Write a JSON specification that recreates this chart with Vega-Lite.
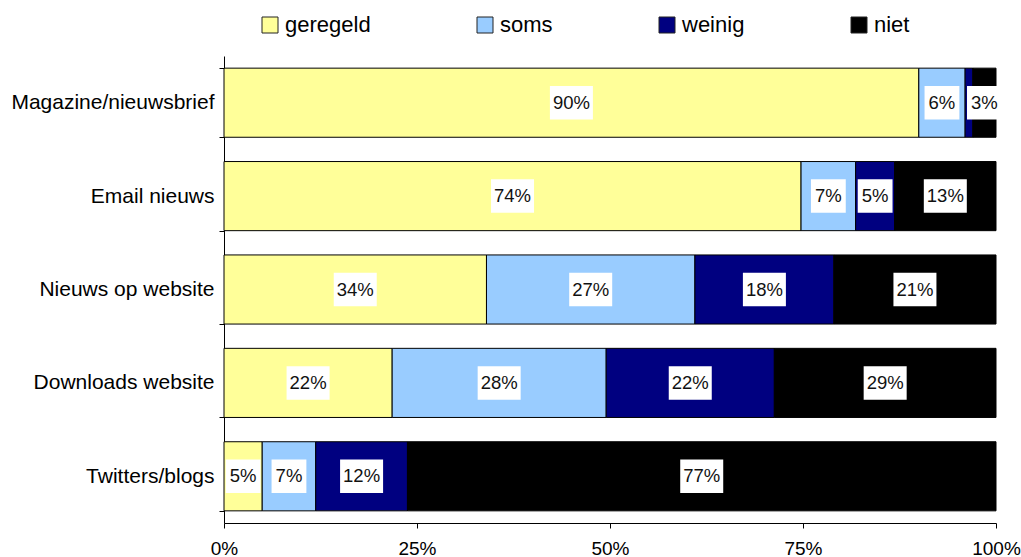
{
  "$schema": "https://vega.github.io/schema/vega-lite/v6.json",
  "autosize": "none",
  "width": 772,
  "height": 467,
  "padding": {"left": 224, "top": 56, "right": 25, "bottom": 34},
  "background": "white",
  "config": {
    "font": "Liberation Sans",
    "view": {"stroke": null},
    "axis": {"labelFont": "Liberation Sans", "labelColor": "#000", "domainColor": "#000", "tickColor": "#000", "domainWidth": 1, "tickWidth": 1}
  },
  "data": {
    "values": [
      {"cat": "Magazine/nieuwsbrief", "resp": "geregeld", "ord": 1, "value": 0.90},
      {"cat": "Magazine/nieuwsbrief", "resp": "soms", "ord": 2, "value": 0.06},
      {"cat": "Magazine/nieuwsbrief", "resp": "weinig", "ord": 3, "value": 0.01},
      {"cat": "Magazine/nieuwsbrief", "resp": "niet", "ord": 4, "value": 0.03},
      {"cat": "Email nieuws", "resp": "geregeld", "ord": 1, "value": 0.74},
      {"cat": "Email nieuws", "resp": "soms", "ord": 2, "value": 0.07},
      {"cat": "Email nieuws", "resp": "weinig", "ord": 3, "value": 0.05},
      {"cat": "Email nieuws", "resp": "niet", "ord": 4, "value": 0.13},
      {"cat": "Nieuws op website", "resp": "geregeld", "ord": 1, "value": 0.34},
      {"cat": "Nieuws op website", "resp": "soms", "ord": 2, "value": 0.27},
      {"cat": "Nieuws op website", "resp": "weinig", "ord": 3, "value": 0.18},
      {"cat": "Nieuws op website", "resp": "niet", "ord": 4, "value": 0.21},
      {"cat": "Downloads website", "resp": "geregeld", "ord": 1, "value": 0.22},
      {"cat": "Downloads website", "resp": "soms", "ord": 2, "value": 0.28},
      {"cat": "Downloads website", "resp": "weinig", "ord": 3, "value": 0.22},
      {"cat": "Downloads website", "resp": "niet", "ord": 4, "value": 0.29},
      {"cat": "Twitters/blogs", "resp": "geregeld", "ord": 1, "value": 0.05},
      {"cat": "Twitters/blogs", "resp": "soms", "ord": 2, "value": 0.07},
      {"cat": "Twitters/blogs", "resp": "weinig", "ord": 3, "value": 0.12},
      {"cat": "Twitters/blogs", "resp": "niet", "ord": 4, "value": 0.77}
    ]
  },
  "transform": [
    {"stack": "value", "groupby": ["cat"], "sort": [{"field": "ord"}], "offset": "normalize", "as": ["v0", "v1"]},
    {"calculate": "(datum.v0 + datum.v1) / 2", "as": "mid"}
  ],
  "encoding": {
    "y": {
      "field": "cat", "type": "nominal", "sort": null,
      "scale": {"paddingInner": 0.26, "paddingOuter": 0.13},
      "axis": {"title": null, "tickBand": "extent", "tickSize": 5, "labelPadding": 5, "labelFontSize": 21, "labelLimit": 300, "domain": true}
    }
  },
  "layer": [
    {
      "mark": {"type": "bar", "stroke": "#000", "strokeWidth": 1},
      "encoding": {
        "x": {
          "field": "v0", "type": "quantitative",
          "scale": {"domain": [0, 1], "nice": false, "zero": true},
          "axis": {"title": null, "values": [0, 0.25, 0.5, 0.75, 1], "format": ".0%", "grid": false, "tickSize": 5, "labelPadding": 11, "labelFontSize": 19, "labelFlush": false}
        },
        "x2": {"field": "v1"},
        "color": {
          "field": "resp", "type": "nominal",
          "scale": {"domain": ["geregeld", "soms", "weinig", "niet"], "range": ["#FFFF99", "#99CCFF", "#000080", "#000000"]},
          "legend": {
            "title": null, "orient": "none", "direction": "horizontal",
            "legendX": 35, "legendY": -42, "padding": 0,
            "symbolType": "square", "symbolSize": 256, "symbolStrokeColor": "#222", "symbolStrokeWidth": 1,
            "labelFont": "Liberation Sans", "labelFontSize": 22, "labelColor": "#000", "labelOffset": 4, "labelLimit": 300,
            "columnPadding": 103
          }
        }
      }
    },
    {
      "transform": [{"filter": "datum.value >= 0.02"}],
      "mark": {"type": "point", "filled": true, "color": "white", "opacity": 1, "size": 1849, "strokeWidth": 0},
      "encoding": {
        "x": {"field": "mid", "type": "quantitative"},
        "shape": {
          "condition": {"test": "datum.value < 0.1", "value": "M-0.81,-0.78H0.81V0.78H-0.81Z"},
          "value": "M-1,-0.78H1V0.78H-1Z"
        }
      }
    },
    {
      "transform": [{"filter": "datum.value >= 0.02"}],
      "mark": {"type": "text", "font": "Liberation Sans", "fontSize": 18.5, "color": "#111", "baseline": "middle", "align": "center"},
      "encoding": {
        "x": {"field": "mid", "type": "quantitative"},
        "text": {"field": "value", "type": "quantitative", "format": ".0%"}
      }
    }
  ]
}
